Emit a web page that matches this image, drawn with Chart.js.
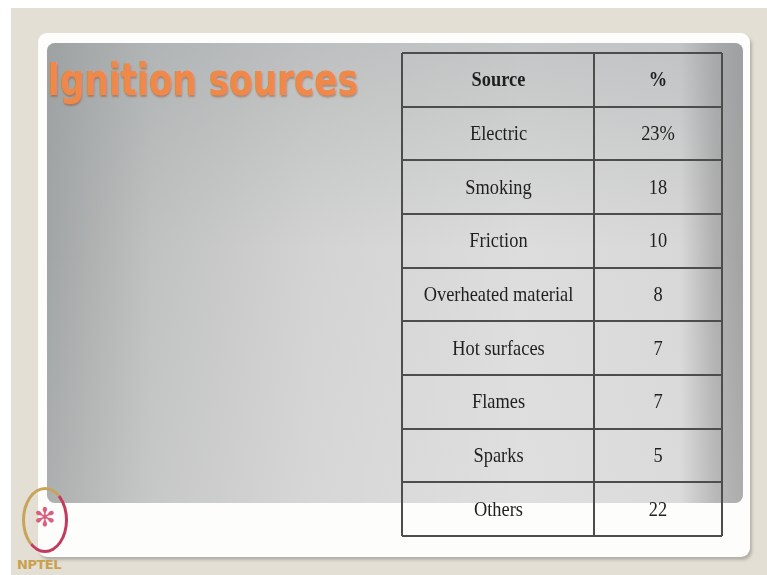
<!DOCTYPE html>
<html>
<head>
<meta charset="utf-8">
<script src="https://cdn.jsdelivr.net/npm/chart.js@4"></script>
<style>
	html, body { margin: 0; padding: 0; background: #fff; }
	#slide { position: relative; width: 767px; height: 575px; overflow: hidden; }
	#page { position: absolute; left: 11px; top: 8px; right: 0; bottom: 0; background: #e3dfd4; }
	#card { position: absolute; left: 38px; top: 33px; width: 712px; height: 524px; background: #fdfdfb;
		border-radius: 9px; box-shadow: 2px 3px 3px rgba(120,120,110,0.45); }
	#panel { position: absolute; left: 47px; top: 43px; width: 696px; height: 460px; border-radius: 8px;
		background: linear-gradient(90deg, #a2a5a5 0%, #c0c2c1 15%, #d2d3d2 38%, #dcdddc 68%, #d8d8d8 91%, #b0b0b0 96%, #a2a2a2 100%); }
	#panelShade { position: absolute; left: 0; top: 0; right: 0; bottom: 0; border-radius: 8px;
		background: linear-gradient(180deg, rgba(150,155,158,0.35) 0%, rgba(200,200,200,0) 45%, rgba(235,235,235,0.15) 100%); }
	#title { position: absolute; left: 47px; top: 55px; font-family: "DejaVu Sans", sans-serif; font-weight: bold;
		font-size: 44px; line-height: 50px; color: #f0884a; white-space: nowrap;
		transform: scaleX(0.78); transform-origin: left top;
		text-shadow: 1px 2px 2px rgba(150,70,30,0.45); }
	#logo { position: absolute; left: 22px; top: 487px; width: 46px; height: 66px; border-radius: 50%;
		border: 3px solid #c9a35a; border-right-color: #c23a5c; border-bottom-color: #c23a5c; box-sizing: border-box; }
	#logoStar { position: absolute; left: 30px; top: 502px; width: 30px; text-align: center; font-size: 26px; color: #d8607e;
		font-family: "DejaVu Sans", sans-serif; }
	#logoText { position: absolute; left: 17px; top: 557px; font-family: "DejaVu Sans", sans-serif; font-weight: bold;
		font-size: 13px; color: #c9a14e; letter-spacing: -0.5px; }
	canvas { position: absolute; left: 0; top: 0; }
</style>
</head>
<body>
<div id="slide">
	<div id="page"></div>
	<div id="card"></div>
	<div id="panel"><div id="panelShade"></div></div>
	<div id="title">Ignition sources</div>
	<div id="logo"></div>
	<div id="logoStar">✻</div>
	<div id="logoText">NPTEL</div>
	<canvas id="tableChart" width="767" height="575"></canvas>
</div>

<script>
	// table content
	const headers = ['Source', '%'];
	const sources = ['Electric', 'Smoking', 'Friction', 'Overheated material', 'Hot surfaces', 'Flames', 'Sparks', 'Others'];
	const shares = [23, 18, 10, 8, 7, 7, 5, 22];

	const rows = ['header'].concat(sources);
	const sourceCells = rows.map(() => [0, 3]);
	const shareCells = rows.map(() => [3, 5]);

	function cellText(datasetIndex, row) {
		if (row === 0) return headers[datasetIndex];
		if (datasetIndex === 0) return sources[row - 1];
		return row === 1 ? shares[0] + '%' : String(shares[row - 1]);
	}

	// writes the text in the middle of each cell (slightly narrow, like the slide)
	const cellLabels = {
		id: 'cellLabels',
		afterDatasetsDraw(chart) {
			const ctx = chart.ctx;
			chart.data.datasets.forEach((ds, di) => {
				chart.getDatasetMeta(di).data.forEach((bar, row) => {
					const p = bar.getCenterPoint();
					ctx.save();
					ctx.translate(p.x, p.y + 1);
					ctx.scale(0.92, 1.05);
					ctx.fillStyle = '#1f1f1f';
					ctx.textAlign = 'center';
					ctx.textBaseline = 'middle';
					ctx.font = (row === 0 ? 'bold ' : '') + '20px "Liberation Serif", serif';
					ctx.fillText(cellText(di, row), 0, 0);
					ctx.restore();
				});
			});
		}
	};

	new Chart(document.getElementById('tableChart'), {
		type: 'bar',
		data: {
			labels: rows,
			datasets: [
				{ label: 'Source', data: sourceCells, backgroundColor: 'rgba(0,0,0,0)', borderWidth: 0, grouped: false },
				{ label: '%', data: shareCells, backgroundColor: 'rgba(0,0,0,0)', borderWidth: 0, grouped: false }
			]
		},
		options: {
			indexAxis: 'y',
			responsive: false,
			animation: false,
			events: [],
			categoryPercentage: 1,
			barPercentage: 1,
			layout: { padding: { left: 402, right: 45, top: 53, bottom: 39 } },
			plugins: { legend: { display: false }, tooltip: { enabled: false } },
			scales: {
				x: {
					type: 'linear', min: 0, max: 5,
					afterBuildTicks: (axis) => { axis.ticks = [{ value: 0 }, { value: 3 }, { value: 5 }]; },
					ticks: { display: false },
					grid: { color: '#4d4d4d', lineWidth: 2, drawTicks: false },
					border: { display: false }
				},
				y: {
					type: 'category',
					ticks: { display: false },
					grid: { color: '#4d4d4d', lineWidth: 2, drawTicks: false, offset: true },
					border: { display: false }
				}
			}
		},
		plugins: [cellLabels]
	});
</script>
</body>
</html>
